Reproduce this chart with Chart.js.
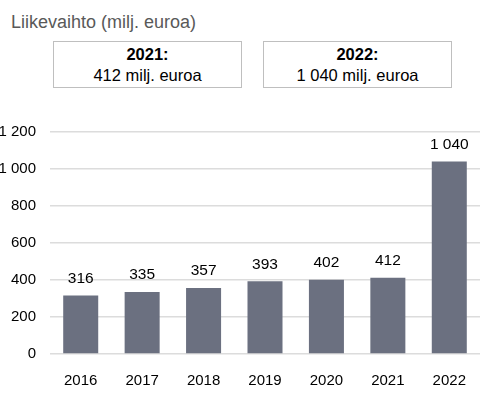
<!DOCTYPE html>
<html>
<head>
<meta charset="utf-8">
<script src="https://cdn.jsdelivr.net/npm/chart.js@4"></script>
<style>
  body { margin: 0; background: #fff; font-family: "Liberation Sans", Arial, sans-serif; }
  #wrap { position: relative; width: 499px; height: 399px; overflow: hidden; }
  #title { position: absolute; left: 11px; top: 12px; font-size: 18px; line-height: 21px; color: #595959; }
  .box { position: absolute; top: 41px; width: 187px; height: 43px; border: 1px solid #bfbfbf;
         text-align: center; font-size: 16.5px; color: #000; line-height: 21px; padding-top: 2px; box-sizing: content-box; }
  .box b { display: block; }
  #chart-box { position: absolute; left: 0; top: 100px; width: 499px; height: 299px; }
</style>
</head>
<body>
<div id="wrap">
  <div id="title">Liikevaihto (milj. euroa)</div>
  <div class="box" style="left:53px"><b>2021:</b>412 milj. euroa</div>
  <div class="box" style="left:263px"><b>2022:</b>1 040 milj. euroa</div>
  <div id="chart-box"><canvas id="myChart" width="499" height="299"></canvas></div>
</div>
<script>
const years = ["2016", "2017", "2018", "2019", "2020", "2021", "2022"]
const revenue = [316, 335, 357, 393, 402, 412, 1040]
const yTicks = [0, 200, 400, 600, 800, 1000, 1200]

const fmt = (v) => String(v).replace(/\B(?=(\d{3})+(?!\d))/g, " ")

const barLabels = {
  id: "barLabels",
  afterDatasetsDraw(chart) {
    const ctx = chart.ctx
    ctx.save()
    ctx.font = "15.5px 'Liberation Sans', Arial, sans-serif"
    ctx.fillStyle = "#000"
    ctx.textAlign = "center"
    ctx.textBaseline = "middle"
    chart.getDatasetMeta(0).data.forEach((bar, i) => {
      ctx.fillText(fmt(revenue[i]), bar.x, bar.y - 17)
    })
    ctx.restore()
  },
}

const config = {
  type: "bar",
  data: {
    labels: years,
    datasets: [
      {
        data: revenue,
        backgroundColor: "#6b7080",
        borderWidth: 0,
        categoryPercentage: 1,
        barPercentage: 0.57,
      },
    ],
  },
  options: {
    responsive: false,
    animation: false,
    layout: { padding: { top: 32, right: 19, left: 0, bottom: 0 } },
    plugins: { legend: { display: false }, tooltip: { enabled: false } },
    scales: {
      x: {
        grid: { display: false },
        border: { display: false },
        ticks: {
          color: "#000",
          padding: 10,
          font: { family: "'Liberation Sans', Arial, sans-serif", size: 15 },
        },
        afterFit: (scale) => { scale.height = 45 },
      },
      y: {
        min: 0,
        max: 1200,
        afterBuildTicks: (scale) => { scale.ticks = yTicks.map((v) => ({ value: v })) },
        grid: { color: "#dcdcdc", lineWidth: 1.5, drawTicks: false },
        border: { display: false },
        ticks: {
          color: "#000",
          padding: 14,
          font: { family: "'Liberation Sans', Arial, sans-serif", size: 15 },
          callback: (v) => fmt(v),
        },
        afterFit: (scale) => { scale.width = 50 },
      },
    },
  },
  plugins: [barLabels],
}

new Chart(document.getElementById("myChart"), config)
</script>
</body>
</html>
